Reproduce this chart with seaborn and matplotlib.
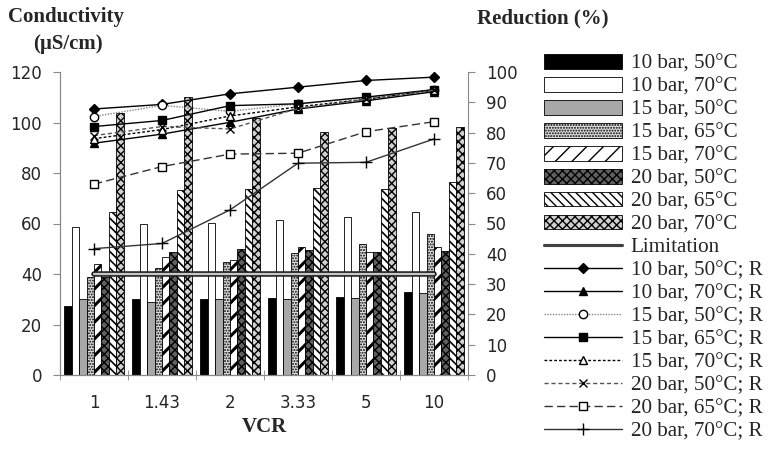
import numpy as np
import pandas as pd
import seaborn as sns
import matplotlib.pyplot as plt
import matplotlib.patheffects as pe
from matplotlib.ticker import FixedLocator

sns.set_style("white")
plt.rcParams["font.family"] = ["DejaVu Sans"]
plt.rcParams["hatch.linewidth"] = 1.0

vcr = ["1", "1.43", "2", "3.33", "5", "10"]
series = ["10 bar, 50°C", "10 bar, 70°C", "15 bar, 50°C", "15 bar, 65°C",
          "15 bar, 70°C", "20 bar, 50°C", "20 bar, 65°C", "20 bar, 70°C"]

# conductivity (uS/cm), left axis
cond_10_50 = [27.5, 30, 30, 30.5, 31, 32.7]
cond_10_70 = [58.5, 59.8, 60.3, 61.4, 62.7, 64.4]
cond_15_50 = [30, 29, 30, 30, 30.4, 32.3]
cond_15_65 = [39, 42.5, 44.9, 48.4, 51.9, 55.8]
cond_15_70 = [44, 46.6, 45.5, 50.6, 48.8, 50.6]
cond_20_50 = [39, 48.8, 49.9, 49.5, 48.8, 49.2]
cond_20_65 = [64.4, 73.3, 73.7, 74.2, 73.7, 76.6]
cond_20_70 = [103.6, 110.2, 101.7, 96.4, 97.7, 98.3]
limitation = [40, 40, 40, 40, 40, 40]

# reduction (%), right axis
red_10_50 = [87.8, 89.3, 92.8, 95, 97.2, 98.3]
red_10_70 = [76.5, 79.5, 83.4, 87.8, 90.5, 93.5]
red_15_50 = [85.3, 89, 87, 89.5, 91.5, 94]
red_15_65 = [82, 84, 88.9, 89.5, 91.7, 94.2]
red_15_70 = [78, 81, 85.5, 88.5, 91, 94]
red_20_50 = [79, 82, 81.2, 88, 91, 94]
red_20_65 = [63, 68.8, 72.9, 73.2, 80.3, 83.6]
red_20_70 = [41.7, 43.4, 54.5, 69.9, 70.2, 77.9]

cond = [cond_10_50, cond_10_70, cond_15_50, cond_15_65,
        cond_15_70, cond_20_50, cond_20_65, cond_20_70]
red = [red_10_50, red_10_70, red_15_50, red_15_65,
       red_15_70, red_20_50, red_20_65, red_20_70]

df = pd.DataFrame({
    "VCR": vcr * len(series),
    "Series": np.repeat(series, len(vcr)),
    "Conductivity": np.concatenate(cond),
})

fig = plt.figure(figsize=(7.69, 4.5), dpi=100)
ax = fig.add_axes([60 / 769, 1 - 375 / 450, 408 / 769, 303 / 450])

sns.barplot(data=df, x="VCR", y="Conductivity", hue="Series", order=vcr,
            hue_order=series, width=0.87, ax=ax, legend=False,
            edgecolor="black", linewidth=0.6)

bar_styles = [
    dict(facecolor="black", hatch=None, hlw=1.0),
    dict(facecolor="white", hatch=None, hlw=1.0),
    dict(facecolor="#a8a8a8", hatch=None, hlw=1.0),
    dict(facecolor="#e4e4e4", hatch="......", hlw=1.0),
    dict(facecolor="white", hatch="//", hlw=2.2),
    dict(facecolor="#606060", hatch="xxxx", hlw=1.0),
    dict(facecolor="white", hatch="\\\\\\\\", hlw=1.2),
    dict(facecolor="#d0d0d0", hatch="xxxx", hlw=1.0),
]
for cont, st in zip(ax.containers, bar_styles):
    for p in cont.patches:
        p.set_facecolor(st["facecolor"])
        p.set_hatch(st["hatch"])
        p.set_edgecolor("black")
        if hasattr(p, "set_hatch_linewidth"):
            p.set_hatch_linewidth(st["hlw"])

sns.lineplot(x=np.arange(len(vcr)), y=limitation, ax=ax, color="#c8c8c8",
             lw=1.6, zorder=5, label="Limitation",
             path_effects=[pe.Stroke(linewidth=4, foreground="#222222"), pe.Normal()])
if ax.get_legend():
    ax.get_legend().remove()

ax2 = ax.twinx()
line_styles = [
    dict(color="black", linestyle="-", marker="D", ms=5.5, mfc="black"),
    dict(color="black", linestyle="-", marker="^", ms=6, mfc="black"),
    dict(color="#888888", linestyle=(0, (1, 1)), marker="o", ms=6, mfc="white"),
    dict(color="black", linestyle="-", marker="s", ms=5.5, mfc="black"),
    dict(color="black", linestyle=(0, (2, 1.5)), marker="^", ms=6, mfc="white"),
    dict(color="#555555", linestyle=(0, (3, 2)), marker="x", ms=6, mfc="none"),
    dict(color="#333333", linestyle=(0, (6, 3)), marker="s", ms=6, mfc="white"),
    dict(color="#333333", linestyle="-", marker="+", ms=8, mfc="none"),
]
for name, vals, st in zip(series, red, line_styles):
    sns.lineplot(x=np.arange(len(vcr)), y=vals, ax=ax2, color=st["color"],
                 linestyle=st["linestyle"], lw=1.0, marker=st["marker"],
                 markersize=st["ms"], markerfacecolor=st["mfc"],
                 markeredgecolor="black", markeredgewidth=1.0,
                 label=name + "; R")
if ax2.get_legend():
    ax2.get_legend().remove()

for a in (ax, ax2):
    a.set_xlim(-0.5, len(vcr) - 0.5)
    for s in a.spines.values():
        s.set_color("#888888")
    a.spines["top"].set_visible(False)
ax.set_ylim(0, 120)
ax2.set_ylim(0, 100)
ax.set_yticks(range(0, 121, 20))
ax2.set_yticks(range(0, 101, 10))
ax.spines["right"].set_visible(False)

ax.xaxis.set_minor_locator(FixedLocator(np.arange(-0.5, len(vcr), 1)))
ax.tick_params(axis="x", which="major", length=0, pad=14, labelsize=12)
ax.tick_params(axis="x", which="minor", length=7, direction="inout",
               color="#888888", bottom=True)
ax.tick_params(axis="y", length=5, color="#888888", left=True, labelsize=12, pad=8)
ax2.tick_params(axis="y", length=5, color="#888888", right=True, labelsize=12, pad=8)

serif = ["Liberation Serif", "DejaVu Serif"]
ax.set_xlabel("VCR", family=serif, fontsize=15, fontweight="bold", labelpad=3)
ax.set_ylabel("")
ax2.set_ylabel("")

fig.text(8 / 769, 1 - 17 / 450, "Conductivity", family=serif, fontsize=15,
         fontweight="bold", va="center")
fig.text(68 / 769, 1 - 44 / 450, "(µS/cm)", family=serif, fontsize=15,
         fontweight="bold", va="center", ha="center")
fig.text(477 / 769, 1 - 18 / 450, "Reduction (%)", family=serif, fontsize=15,
         fontweight="bold", va="center")

handles = list(ax.containers) + [ax.get_lines()[0]] + ax2.get_lines()
labels = series + ["Limitation"] + [s + "; R" for s in series]
fig.legend(handles, labels, loc="upper left", bbox_to_anchor=(544 / 769, 1 - 54 / 450),
           frameon=False, prop=dict(family=serif, size=15.2), handlelength=3.7,
           labelspacing=0.15, handletextpad=0.4, borderaxespad=0, borderpad=0)

fig.savefig("out.png", dpi=100)
